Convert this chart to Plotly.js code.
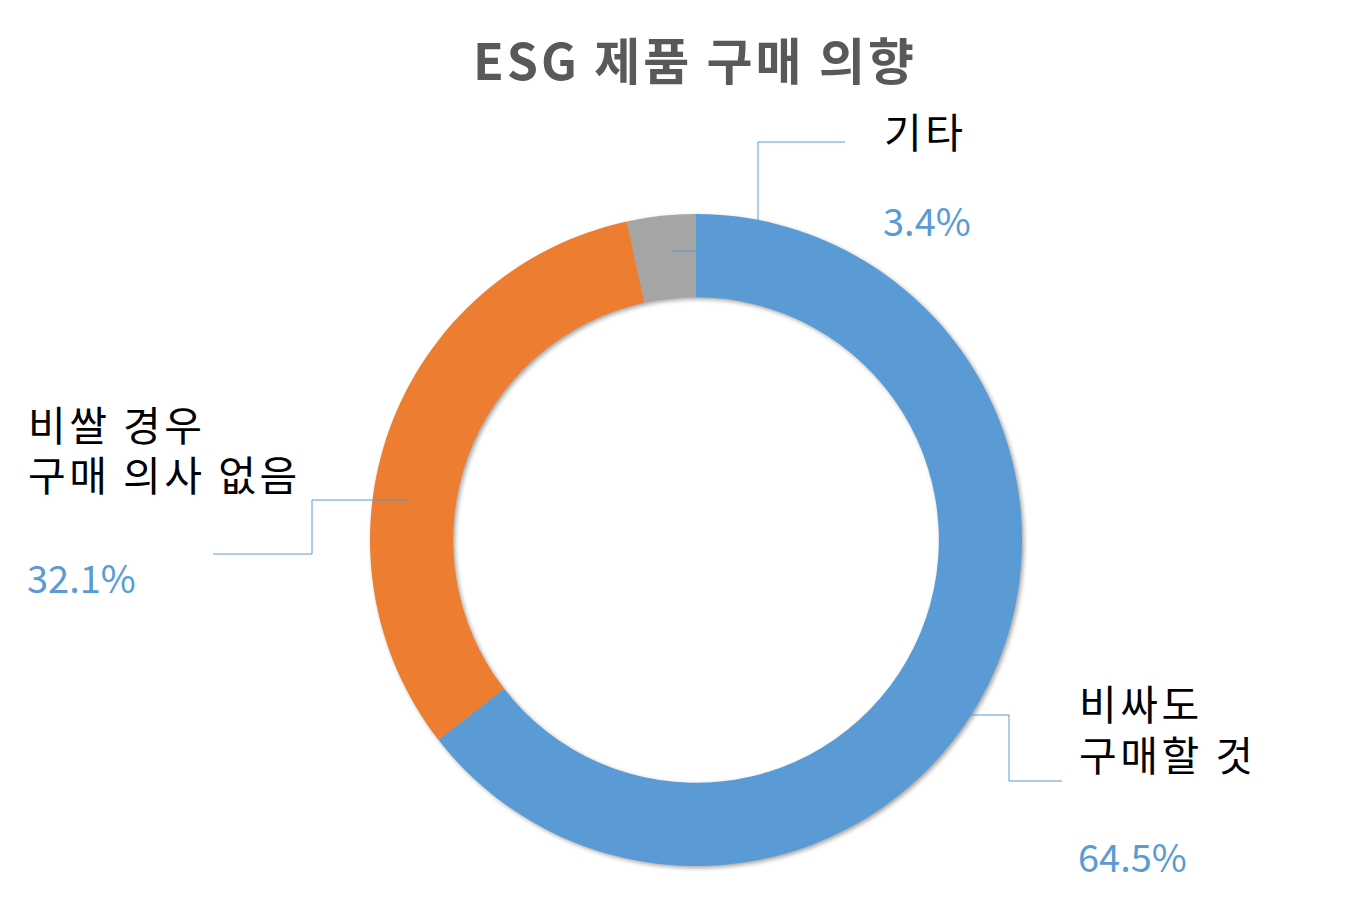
<!DOCTYPE html>
<html>
<head>
<meta charset="utf-8">
<script src="https://cdn.plot.ly/plotly-3.0.1.min.js"></script>
<style>
html,body{margin:0;padding:0;background:#fff;}
#chart{width:1363px;height:905px;}
#chart .pielayer .trace{filter:drop-shadow(2px 2px 2px rgba(0,0,0,0.35));}
#chart .gtitle{letter-spacing:3px;}
</style>
</head>
<body>
<div id="chart"></div>
<script>
// ---- data ----
const categories = ["비싸도<br>구매할 것", "비쌀 경우<br>구매 의사 없음", "기타"];
const values = [64.5, 32.1, 3.4];
const percentLabels = ["64.5%", "32.1%", "3.4%"];
const sliceColors = ["#5B9BD5", "#ED7D31", "#A5A5A5"];
const chartTitle = "ESG 제품 구매 의향";

// ---- layout helpers (pixel -> paper) ----
const W = 1363, H = 905;
const M = {l: 0, r: 0, t: 214, b: 39};
const PW = W - M.l - M.r, PH = H - M.t - M.b;
const px = x => (x - M.l) / PW;
const py = y => (H - M.b - y) / PH;

const FONT = '"Noto Sans CJK KR", "Malgun Gothic", sans-serif';
const labelSize = 41, pctSize = 38;

// label placement (left x, line centre y's, percent centre y) per slice
const labelPos = [
  {x: 1077, lines: [702, 753], pctX: 1076, pctY: 855},
  {x: 26, lines: [423, 473], pctX: 25, pctY: 576},
  {x: 882, lines: [130], pctX: 881, pctY: 220}
];
// leader line paths (pixel points) per slice
const leaders = [
  [[940, 715], [1009, 715], [1009, 781], [1062, 781]],
  [[410, 500], [312, 500], [312, 554], [213, 554]],
  [[672, 251], [758, 251], [758, 142], [845, 142]]
];

const annotations = [];
categories.forEach((c, i) => {
  const lines = c.split("<br>");
  lines.forEach((ln, j) => {
    annotations.push({
      text: ln, xref: "paper", yref: "paper",
      x: px(labelPos[i].x), y: py(labelPos[i].lines[j]),
      xanchor: "left", yanchor: "middle", showarrow: false,
      name: "cat",
      font: {family: FONT, size: labelSize, color: "#000000"}
    });
  });
  annotations.push({
    text: percentLabels[i], xref: "paper", yref: "paper",
    x: px(labelPos[i].pctX), y: py(labelPos[i].pctY),
    xanchor: "left", yanchor: "middle", showarrow: false,
    name: "pct",
    font: {family: FONT, size: pctSize, color: "#5B9BD5"}
  });
});

const shapes = [];
leaders.forEach(pts => {
  for (let k = 0; k < pts.length - 1; k++) {
    shapes.push({
      type: "line", xref: "paper", yref: "paper",
      x0: px(pts[k][0]), y0: py(pts[k][1]), x1: px(pts[k+1][0]), y1: py(pts[k+1][1]),
      line: {color: "#5B9BD5", width: 1}, layer: "above"
    });
  }
});

const cx = 696, R = 326;
const trace = {
  type: "pie",
  labels: categories,
  values: values,
  sort: false,
  direction: "clockwise",
  rotation: 0,
  hole: 0.745,
  marker: {colors: sliceColors, line: {width: 0}},
  textinfo: "none",
  hoverinfo: "label+percent",
  domain: {x: [px(cx - R), px(cx + R)], y: [0, 1]},
  showlegend: false
};

const layout = {
  width: W, height: H,
  margin: M,
  paper_bgcolor: "#ffffff",
  plot_bgcolor: "#ffffff",
  title: {
    text: "<b>" + chartTitle + "</b>",
    x: 695 / W, xanchor: "center",
    y: 1 - 62 / H, yanchor: "middle", yref: "container",
    font: {family: FONT, size: 50, color: "#595959"}
  },
  annotations: annotations,
  shapes: shapes,
  showlegend: false
};

Plotly.newPlot("chart", [trace], layout, {displayModeBar: false, staticPlot: true}).then(() => {
  // widen Hangul category labels to match the original typeface's spacing,
  // keeping each label's left edge where Plotly placed it
  document.querySelectorAll("#chart .annotation").forEach((g, idx) => {
    if (annotations[idx] && annotations[idx].name === "cat") {
      const t = g.querySelector("text");
      if (!t) return;
      const left = t.getBBox().x;
      t.style.letterSpacing = "3.5px";
      t.setAttribute("text-anchor", "start");
      t.style.textAnchor = "start";
      t.setAttribute("x", left);
      t.querySelectorAll("tspan").forEach(s => { if (s.hasAttribute("x")) s.setAttribute("x", left); });
    }
  });
});
</script>
</body>
</html>
